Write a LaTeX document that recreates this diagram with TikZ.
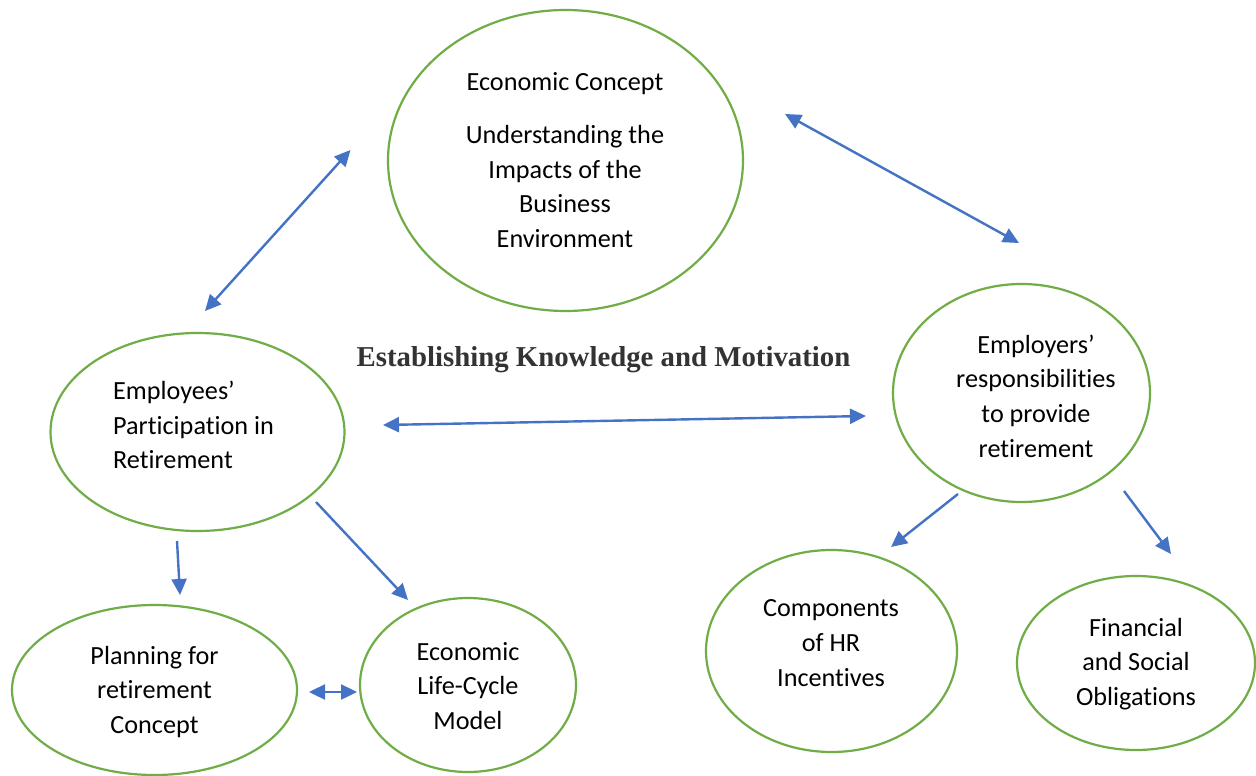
\documentclass[tikz,border=0pt]{standalone}
\usepackage{fontspec}
\setmainfont{Carlito}[Ligatures={NoCommon}]
\newfontfamily\titlefont{Liberation Serif}
\usetikzlibrary{shapes.geometric,arrows.meta}
\definecolor{elgreen}{HTML}{70AD47}
\definecolor{arblue}{HTML}{4472C4}
\definecolor{titlegray}{HTML}{333333}
\begin{document}
\begin{tikzpicture}[x=1pt,y=-1pt,
  oval/.style={draw=elgreen,line width=2.2pt,ellipse,inner sep=0pt},
  txt/.style={align=center,inner sep=0pt,font=\fontsize{26.2}{34.7}\selectfont},
  arr/.style={draw=arblue,line width=2.4pt,-{Triangle[length=16pt,width=15pt]}},
  darr/.style={draw=arblue,line width=2.4pt,{Triangle[length=16pt,width=15pt]}-{Triangle[length=16pt,width=15pt]}}]
\useasboundingbox[fill=white] (0,0) rectangle (1256,776);
% ellipses
\node[oval,minimum width=355pt,minimum height=301pt] (econ) at (565.5,160.5) {};
\node[oval,minimum width=294pt,minimum height=198pt] (employees) at (197.5,432) {};
\node[oval,minimum width=257pt,minimum height=218pt] (employers) at (1021.5,393) {};
\node[oval,minimum width=285pt,minimum height=170pt] (planning) at (154.5,690) {};
\node[oval,minimum width=216pt,minimum height=174pt] (lifecycle) at (468,685) {};
\node[oval,minimum width=251pt,minimum height=202pt] (components) at (831.5,651) {};
\node[oval,minimum width=238pt,minimum height=174pt] (financial) at (1136,663) {};
% texts
\node[txt] (econtxt) at (565,160) {Economic Concept\\[18.3pt]Understanding the\\Impacts of the\\Business\\Environment};
\node[txt,align=left,anchor=west] (emptxt) at (113,425) {Employees’\\Participation in\\Retirement};
\node[txt] (emprtxt) at (1036,396) {Employers’\\responsibilities\\to provide\\retirement};
\node[txt] (plantxt) at (154.5,692) {Planning for\\retirement\\Concept};
\node[txt] (lifetxt) at (468,686) {Economic\\Life-Cycle\\Model};
\node[txt] (comptxt) at (831,643) {Components\\of HR\\Incentives};
\node[txt] (fintxt) at (1136,664) {Financial\\and Social\\Obligations};
\node[font=\titlefont\bfseries\fontsize{28.8}{34}\selectfont,text=titlegray,anchor=base,inner sep=0pt] (title) at (603.5,366) {Establishing Knowledge and Motivation};
% arrow end points
\coordinate (a1s) at (205,311);
\coordinate (a1e) at (350.5,150);
\coordinate (a2s) at (785,114);
\coordinate (a2e) at (1019,243);
\coordinate (a3s) at (383,425);
\coordinate (a3e) at (866,416);
\coordinate (a4s) at (177,541);
\coordinate (a4e) at (180,595);
\coordinate (a5s) at (316,502);
\coordinate (a5e) at (408,600);
\coordinate (a6s) at (309,692);
\coordinate (a6e) at (357,692);
\coordinate (a7s) at (958,494);
\coordinate (a7e) at (891,547);
\coordinate (a8s) at (1124,491);
\coordinate (a8e) at (1171,554);
\draw[darr] (a1s) -- (a1e);
\draw[darr] (a2s) -- (a2e);
\draw[darr] (a3s) -- (a3e);
\draw[arr] (a4s) -- (a4e);
\draw[arr] (a5s) -- (a5e);
\draw[darr] (a6s) -- (a6e);
\draw[arr] (a7s) -- (a7e);
\draw[arr] (a8s) -- (a8e);
\end{tikzpicture}
\end{document}
